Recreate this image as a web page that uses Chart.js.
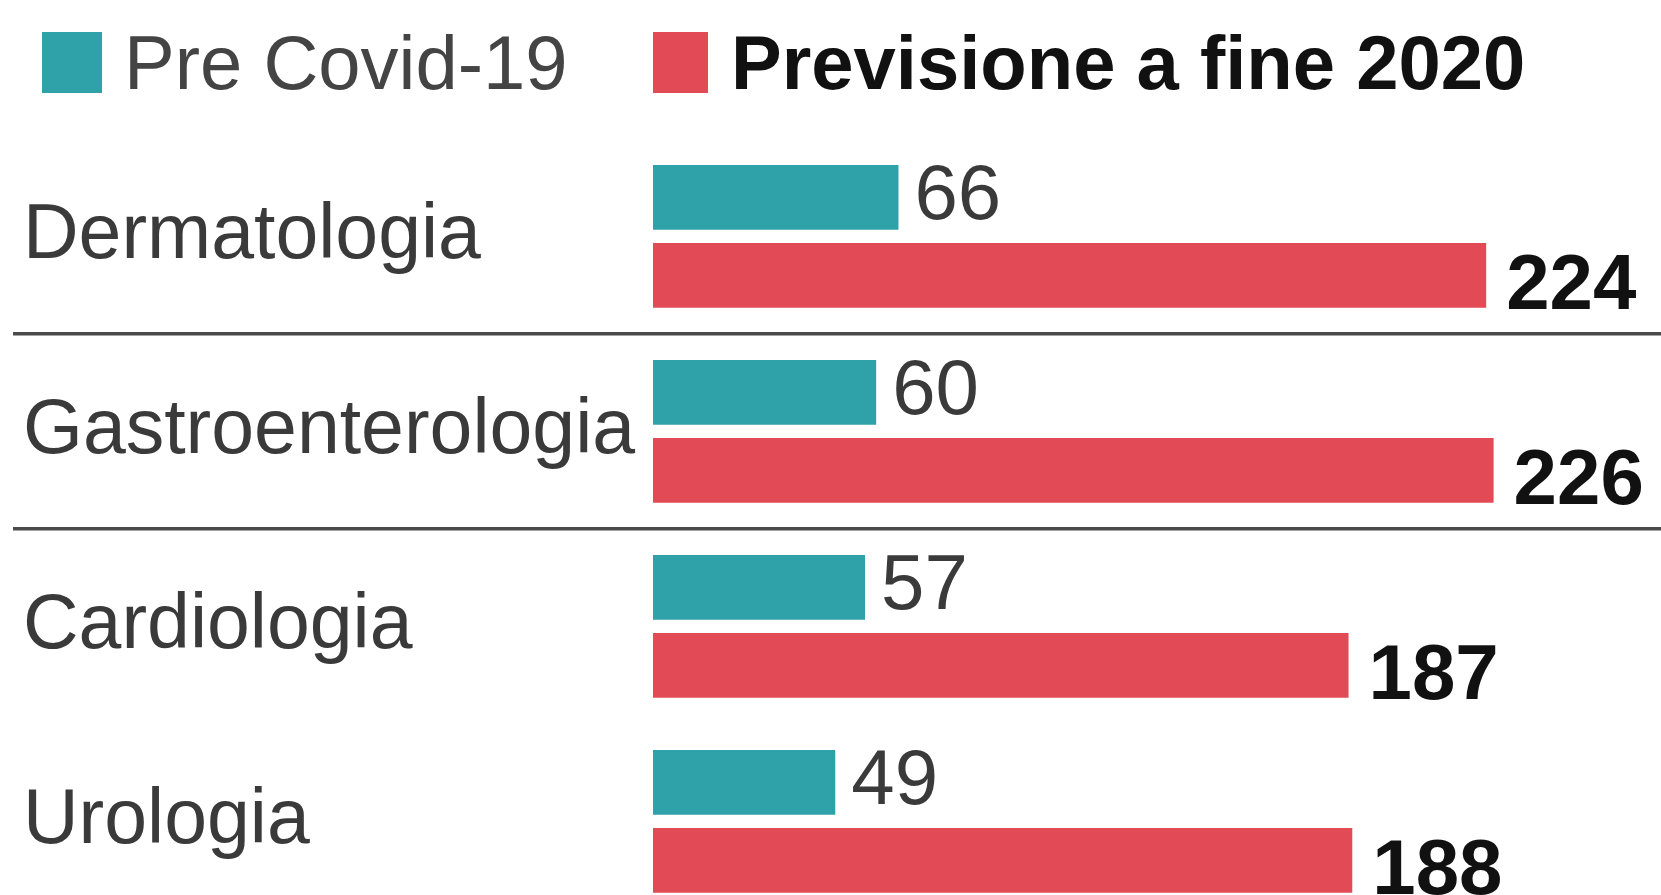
<!DOCTYPE html>
<html lang="it">
<head>
    <meta charset="UTF-8">
    <title>Pre Covid-19 / Previsione a fine 2020</title>
    <script src="https://cdn.jsdelivr.net/npm/chart.js@4.4.0/dist/chart.umd.min.js"></script>
    <style>
        html, body { margin: 0; padding: 0; background: #fff; overflow: hidden; }
        #wrap { position: relative; width: 1661px; height: 965px; }
        .legend-item {
            position: absolute; top: 32px; height: 61px;
            display: flex; align-items: center; white-space: nowrap;
            font-family: "Liberation Sans", Arial, sans-serif; font-size: 76px; line-height: 1;
        }
        .legend-box { width: 60px; height: 61px; margin-right: 22px; }
    </style>
</head>
<body>
    <div id="wrap">
        <canvas id="chart" width="1661" height="965"></canvas>
        <div class="legend-item" id="leg0" style="left:42px;color:#444;"></div>
        <div class="legend-item" id="leg1" style="left:653px;color:#111;font-weight:bold;"></div>
    </div>

    <script>
        // data
        const categories = ['Dermatologia', 'Gastroenterologia', 'Cardiologia', 'Urologia'];
        const seriesNames = ['Pre Covid-19', 'Previsione a fine 2020'];
        const preCovid = [66, 60, 57, 49];
        const previsione2020 = [224, 226, 187, 188];

        const teal = '#2fa2a9';
        const red = '#e24b56';
        const fontFamily = '"Liberation Sans", Arial, sans-serif';

        // legend (html, because the two entries use different weights)
        [teal, red].forEach((c, i) => {
            const el = document.getElementById('leg' + i);
            const box = document.createElement('span');
            box.className = 'legend-box';
            box.style.background = c;
            if (i === 1) { box.style.width = '55px'; box.style.marginRight = '23px'; }
            el.appendChild(box);
            el.appendChild(document.createTextNode(seriesNames[i]));
        });

        // value labels next to bar ends
        const valueLabels = {
            id: 'valueLabels',
            afterDatasetsDraw(chart) {
                const ctx = chart.ctx;
                chart.data.datasets.forEach((ds, di) => {
                    const meta = chart.getDatasetMeta(di);
                    meta.data.forEach((bar, i) => {
                        ctx.save();
                        ctx.textBaseline = 'middle';
                        ctx.textAlign = 'left';
                        if (di === 0) {
                            ctx.font = '78px ' + fontFamily;
                            ctx.fillStyle = '#3a3a3a';
                            ctx.fillText(ds.data[i], bar.x + 16, bar.y);
                        } else {
                            ctx.font = 'bold 78px ' + fontFamily;
                            ctx.fillStyle = '#111';
                            ctx.fillText(ds.data[i], bar.x + 20, bar.y + 12);
                        }
                        ctx.restore();
                    });
                });
            }
        };

        new Chart(document.getElementById('chart'), {
            type: 'bar',
            data: {
                labels: categories,
                datasets: [
                    { label: seriesNames[0], data: preCovid, backgroundColor: teal },
                    { label: seriesNames[1], data: previsione2020, backgroundColor: red }
                ]
            },
            options: {
                indexAxis: 'y',
                responsive: false,
                animation: false,
                categoryPercentage: 0.8,
                barPercentage: 0.83,
                layout: { padding: { top: 139, left: 23, right: 0, bottom: 0 } },
                plugins: {
                    legend: { display: false },
                    tooltip: { enabled: false }
                },
                scales: {
                    x: { display: false, min: 0, max: 271 },
                    y: {
                        position: 'left',
                        border: { display: false },
                        grid: {
                            offset: true,
                            lineWidth: 3.5,
                            tickLength: 640,
                            color: ctx => (ctx.index === 1 || ctx.index === 2) ? '#4a4a4a' : 'transparent'
                        },
                        ticks: {
                            crossAlign: 'far',
                            padding: 0,
                            color: '#3a3a3a',
                            font: { family: fontFamily, size: 77 }
                        },
                        afterFit: s => { s.width = 630; }
                    }
                }
            },
            plugins: [valueLabels]
        });
    </script>
</body>
</html>
